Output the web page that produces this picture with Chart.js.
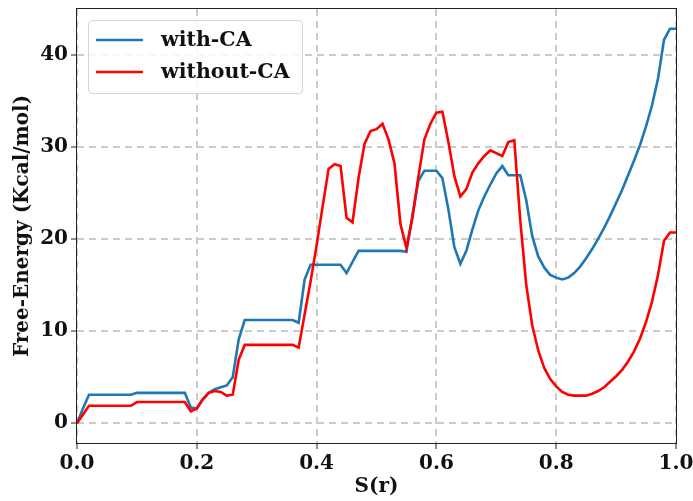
<!DOCTYPE html>
<html lang="en">
<head>
    <meta charset="UTF-8">
    <title>Free-Energy vs S(r)</title>
    <style>
        * { margin: 0; padding: 0; box-sizing: border-box; }
        body { background: #fff; width: 693px; height: 501px; overflow: hidden; }
        #wrap { position: relative; width: 693px; height: 501px; }
    </style>
</head>
<body>
    <div id="wrap"><canvas id="feChart" width="693" height="501"></canvas></div>

    <script src="https://cdn.jsdelivr.net/npm/chart.js"></script>
    <script>
        // S(r) sample points
        const sValues = [
            0.00, 0.01, 0.02, 0.03, 0.04, 0.05, 0.06, 0.07, 0.08, 0.09,
            0.10, 0.11, 0.12, 0.13, 0.14, 0.15, 0.16, 0.17, 0.18, 0.19,
            0.20, 0.21, 0.22, 0.23, 0.24, 0.25, 0.26, 0.27, 0.28, 0.29,
            0.30, 0.31, 0.32, 0.33, 0.34, 0.35, 0.36, 0.37, 0.38, 0.39,
            0.40, 0.41, 0.42, 0.43, 0.44, 0.45, 0.46, 0.47, 0.48, 0.49,
            0.50, 0.51, 0.52, 0.53, 0.54, 0.55, 0.56, 0.57, 0.58, 0.59,
            0.60, 0.61, 0.62, 0.63, 0.64, 0.65, 0.66, 0.67, 0.68, 0.69,
            0.70, 0.71, 0.72, 0.73, 0.74, 0.75, 0.76, 0.77, 0.78, 0.79,
            0.80, 0.81, 0.82, 0.83, 0.84, 0.85, 0.86, 0.87, 0.88, 0.89,
            0.90, 0.91, 0.92, 0.93, 0.94, 0.95, 0.96, 0.97, 0.98, 0.99,
            1.00
        ];

        // with-CA (Kcal/mol)
        const withCA = [
            0.0, 1.6, 3.1, 3.1, 3.1, 3.1, 3.1, 3.1, 3.1, 3.1,
            3.3, 3.3, 3.3, 3.3, 3.3, 3.3, 3.3, 3.3, 3.3, 1.7,
            1.6, 2.6, 3.3, 3.7, 3.9, 4.1, 5.0, 9.1, 11.2, 11.2,
            11.2, 11.2, 11.2, 11.2, 11.2, 11.2, 11.2, 10.9, 15.6, 17.2,
            17.2, 17.2, 17.2, 17.2, 17.2, 16.3, 17.5, 18.7, 18.7, 18.7,
            18.7, 18.7, 18.7, 18.7, 18.7, 18.6, 22.6, 26.3, 27.4, 27.4,
            27.4, 26.6, 23.2, 19.1, 17.3, 18.7, 21.0, 23.1, 24.6, 25.9,
            27.1, 27.9, 26.9, 26.9, 26.9, 24.2, 20.3, 18.1, 16.9, 16.1,
            15.8, 15.6, 15.8, 16.3, 17.0, 17.9, 18.9, 20.0, 21.2, 22.5,
            23.9, 25.3, 26.9, 28.5, 30.2, 32.2, 34.5, 37.4, 41.6, 42.8,
            42.8
        ];

        // without-CA (Kcal/mol)
        const withoutCA = [
            0.0, 0.95, 1.9, 1.9, 1.9, 1.9, 1.9, 1.9, 1.9, 1.9,
            2.3, 2.3, 2.3, 2.3, 2.3, 2.3, 2.3, 2.3, 2.3, 1.3,
            1.6, 2.6, 3.3, 3.5, 3.4, 3.0, 3.1, 6.9, 8.5, 8.5,
            8.5, 8.5, 8.5, 8.5, 8.5, 8.5, 8.5, 8.2, 11.8, 15.4,
            19.3, 23.5, 27.6, 28.1, 27.9, 22.3, 21.8, 26.6, 30.3, 31.7,
            31.9, 32.5, 30.8, 28.2, 21.6, 19.0, 22.3, 26.8, 30.8, 32.5,
            33.7, 33.8, 30.5, 26.8, 24.6, 25.4, 27.2, 28.2, 29.0, 29.6,
            29.3, 29.0, 30.5, 30.7, 22.0, 15.0, 10.6, 7.9, 6.0, 4.8,
            4.0, 3.4, 3.1, 3.0, 3.0, 3.0, 3.2, 3.5, 3.9, 4.5,
            5.1, 5.8, 6.7, 7.8, 9.2, 11.0, 13.2, 16.1, 19.8, 20.7,
            20.7
        ];

        const xTicks = [0.0, 0.2, 0.4, 0.6, 0.8, 1.0];
        const yTicks = [0, 10, 20, 30, 40];

        const FONT = "'DejaVu Serif', serif";
        const gridColor = '#cbcbcb';

        function toPoints(vals) {
            return vals.map((v, i) => ({ x: sValues[i], y: v }));
        }

        // spines all round the plot, like matplotlib
        const frame = {
            id: 'frame',
            afterDraw(chart) {
                const a = chart.chartArea;
                const ctx = chart.ctx;
                ctx.save();
                ctx.strokeStyle = '#222';
                ctx.lineWidth = 1;
                ctx.strokeRect(a.left - 0.5, a.top - 0.5, a.right - a.left + 1, a.bottom - a.top + 1);
                ctx.restore();
            }
        };

        // legend box in the upper left corner
        const boxLegend = {
            id: 'boxLegend',
            afterDraw(chart) {
                const ctx = chart.ctx;
                const bx = 88, by = 20, bw = 214, bh = 73;
                ctx.save();
                ctx.beginPath();
                ctx.roundRect(bx + 0.5, by + 0.5, bw, bh, 4);
                ctx.fillStyle = 'rgba(255,255,255,0.85)';
                ctx.fill();
                ctx.strokeStyle = '#d4d4d4';
                ctx.lineWidth = 1;
                ctx.stroke();

                ctx.font = 'bold 20.5px ' + FONT;
                ctx.textBaseline = 'middle';
                ctx.fillStyle = '#111';
                chart.data.datasets.forEach((ds, i) => {
                    const y = 40 + i * 32;
                    ctx.strokeStyle = ds.borderColor;
                    ctx.lineWidth = 2.5;
                    ctx.beginPath();
                    ctx.moveTo(96, y);
                    ctx.lineTo(143, y);
                    ctx.stroke();
                    ctx.fillText(ds.label, 161, y + 1);
                });
                ctx.restore();
            }
        };

        const ctx = document.getElementById('feChart').getContext('2d');
        new Chart(ctx, {
            type: 'line',
            data: {
                datasets: [
                    {
                        label: 'with-CA',
                        data: toPoints(withCA),
                        borderColor: '#1f77b4',
                        borderWidth: 2.6,
                        pointRadius: 0,
                        tension: 0,
                        fill: false,
                        order: 1
                    },
                    {
                        label: 'without-CA',
                        data: toPoints(withoutCA),
                        borderColor: '#ff0000',
                        borderWidth: 2.6,
                        pointRadius: 0,
                        tension: 0,
                        fill: false,
                        order: 0
                    }
                ]
            },
            options: {
                responsive: false,
                animation: false,
                devicePixelRatio: 1,
                layout: { padding: { top: 9, right: 17, left: 0, bottom: 0 } },
                plugins: {
                    legend: { display: false },
                    tooltip: { enabled: false }
                },
                scales: {
                    x: {
                        type: 'linear',
                        min: 0,
                        max: 1,
                        afterFit(scale) {
                            scale.height = 58;
                            scale.paddingLeft = 0;
                            scale.paddingRight = 0;
                        },
                        afterBuildTicks(scale) { scale.ticks = xTicks.map(v => ({ value: v })); },
                        ticks: {
                            color: '#111',
                            padding: 3,
                            maxRotation: 0,
                            font: { family: FONT, size: 20, weight: 'bold' },
                            callback: v => Number(v).toFixed(1)
                        },
                        grid: {
                            color: gridColor,
                            lineWidth: 2,
                            tickLength: 6,
                            tickColor: '#222',
                            tickWidth: 1,
                            tickBorderDash: []
                        },
                        border: { display: false, dash: [7, 5] },
                        title: {
                            display: true,
                            text: 'S(r)',
                            color: '#111',
                            padding: { top: 0, bottom: 2 },
                            font: { family: FONT, size: 20, weight: 'bold' }
                        }
                    },
                    y: {
                        type: 'linear',
                        min: -2.14,
                        max: 44.94,
                        afterFit(scale) {
                            scale.width = 77;
                            scale.paddingTop = 0;
                            scale.paddingBottom = 0;
                        },
                        afterBuildTicks(scale) { scale.ticks = yTicks.map(v => ({ value: v })); },
                        ticks: {
                            color: '#111',
                            padding: 3,
                            font: { family: FONT, size: 20, weight: 'bold' },
                            callback: v => String(v)
                        },
                        grid: {
                            color: gridColor,
                            lineWidth: 2,
                            tickLength: 6,
                            tickColor: '#222',
                            tickWidth: 1,
                            tickBorderDash: []
                        },
                        border: { display: false, dash: [7, 5] },
                        title: {
                            display: true,
                            text: 'Free-Energy (Kcal/mol)',
                            color: '#111',
                            padding: { top: 11, bottom: 0 },
                            font: { family: FONT, size: 20, weight: 'bold' }
                        }
                    }
                }
            },
            plugins: [frame, boxLegend]
        });
    </script>
</body>
</html>
